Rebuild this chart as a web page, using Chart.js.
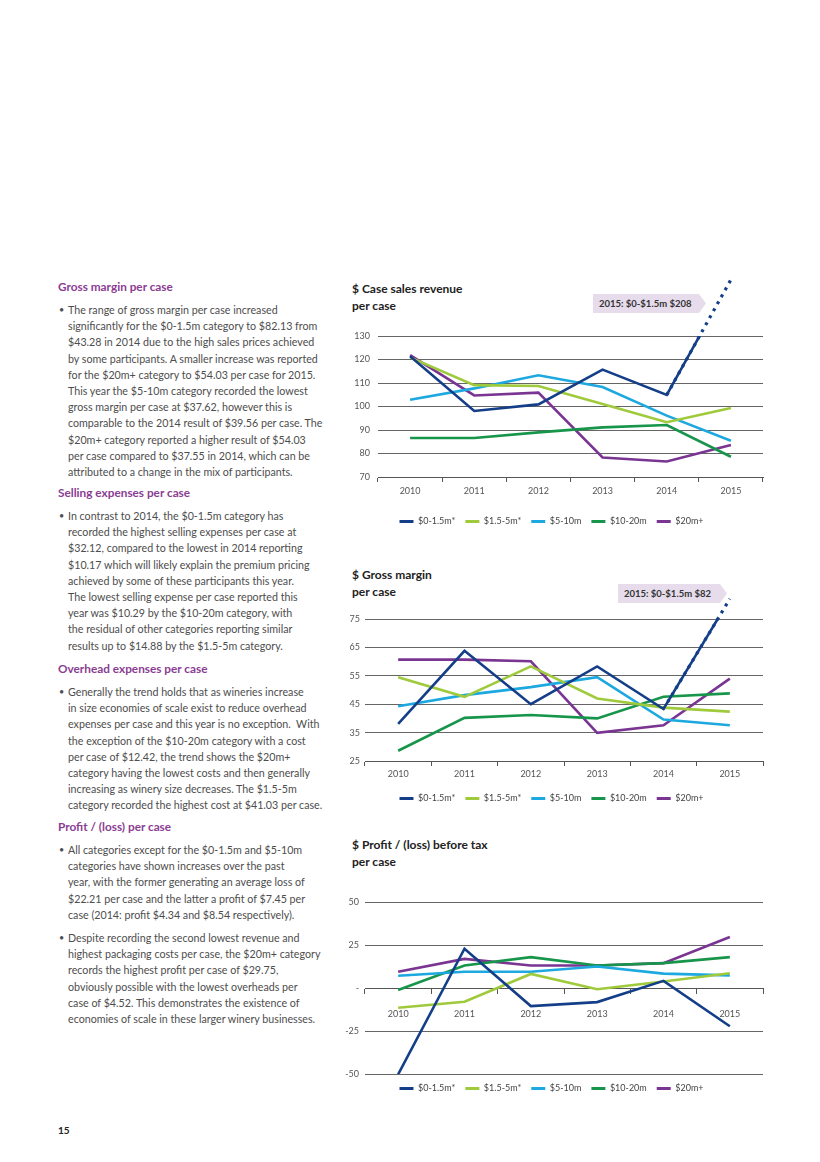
<!DOCTYPE html>
<html>
<head>
<meta charset="utf-8">
<script src="https://cdn.jsdelivr.net/npm/chart.js@4/dist/chart.umd.min.js"></script>
<style>
  html, body { margin:0; padding:0; background:#fff; }
  body { width:820px; height:1162px; position:relative; overflow:hidden; font-family:Lato, "Open Sans", sans-serif; color:#4d4d4d; }
  .abs { position:absolute; }
  .h { font-weight:700; color:#8a3d92; font-size:11.8px; line-height:16px; white-space:nowrap; }
  .p { font-size:10.7px; line-height:16.2px; white-space:nowrap; padding-left:10px; }
  .p::before { content:'•'; position:absolute; left:1px; font-size:9px; }
  .ttl { font-weight:700; color:#222; font-size:12px; line-height:17px; white-space:nowrap; }
  .call { background:#e6dcec; color:#333; font-weight:700; font-size:9.5px; line-height:19px; padding-left:6px; box-sizing:border-box;
          clip-path:polygon(0 0, calc(100% - 7px) 0, 100% 50%, calc(100% - 7px) 100%, 0 100%); white-space:nowrap; }
  canvas { position:absolute; }
</style>
</head>
<body>

<!-- ── LEFT COLUMN TEXT ─────────────────────────────── -->
<div class="abs h" style="left:58px;top:279px">Gross margin per case</div>
<div class="abs p" style="left:58px;top:302px">The range of gross margin per case increased<br>significantly for the $0-1.5m category to $82.13 from<br>$43.28 in 2014 due to the high sales prices achieved<br>by some participants. A smaller increase was reported<br>for the $20m+ category to $54.03 per case for 2015.<br>This year the $5-10m category recorded the lowest<br>gross margin per case at $37.62, however this is<br>comparable to the 2014 result of $39.56 per case. The<br>$20m+ category reported a higher result of $54.03<br>per case compared to $37.55 in 2014, which can be<br>attributed to a change in the mix of participants.</div>

<div class="abs h" style="left:58px;top:485px">Selling expenses per case</div>
<div class="abs p" style="left:58px;top:508px">In contrast to 2014, the $0-1.5m category has<br>recorded the highest selling expenses per case at<br>$32.12, compared to the lowest in 2014 reporting<br>$10.17 which will likely explain the premium pricing<br>achieved by some of these participants this year.<br>The lowest selling expense per case reported this<br>year was $10.29 by the $10-20m category, with<br>the residual of other categories reporting similar<br>results up to $14.88 by the $1.5-5m category.</div>

<div class="abs h" style="left:58px;top:661px">Overhead expenses per case</div>
<div class="abs p" style="left:58px;top:684px">Generally the trend holds that as wineries increase<br>in size economies of scale exist to reduce overhead<br>expenses per case and this year is no exception.&nbsp; With<br>the exception of the $10-20m category with a cost<br>per case of $12.42, the trend shows the $20m+<br>category having the lowest costs and then generally<br>increasing as winery size decreases. The $1.5-5m<br>category recorded the highest cost at $41.03 per case.</div>

<div class="abs h" style="left:58px;top:819px">Profit / (loss) per case</div>
<div class="abs p" style="left:58px;top:842px">All categories except for the $0-1.5m and $5-10m<br>categories have shown increases over the past<br>year, with the former generating an average loss of<br>$22.21 per case and the latter a profit of $7.45 per<br>case (2014: profit $4.34 and $8.54 respectively).</div>
<div class="abs p" style="left:58px;top:930px">Despite recording the second lowest revenue and<br>highest packaging costs per case, the $20m+ category<br>records the highest profit per case of $29.75,<br>obviously possible with the lowest overheads per<br>case of $4.52. This demonstrates the existence of<br>economies of scale in these larger winery businesses.</div>

<div class="abs" style="left:58px;top:1124px;font-weight:700;font-size:10px;color:#222">15</div>

<!-- ── CHART TITLES ─────────────────────────────────── -->
<div class="abs ttl" style="left:352px;top:280px">$ Case sales revenue<br>per case</div>
<div class="abs call" style="left:593px;top:294px;width:113px;height:19px">2015: $0-$1.5m $208</div>
<canvas id="revChart" style="left:340px;top:276px;width:430px;height:260px"></canvas>

<div class="abs ttl" style="left:352px;top:566px">$ Gross margin<br>per case</div>
<div class="abs call" style="left:618px;top:584px;width:109px;height:19px">2015: $0-$1.5m $82</div>
<canvas id="gmChart" style="left:340px;top:569px;width:430px;height:244px"></canvas>

<div class="abs ttl" style="left:352px;top:836px">$ Profit / (loss) before tax<br>per case</div>
<canvas id="plChart" style="left:340px;top:891px;width:430px;height:212px"></canvas>

<script>
// ── DATA ─────────────────────────────────────────────────────────
const YEARS = ['2010', '2011', '2012', '2013', '2014', '2015'];
const SERIES = ['$0-1.5m*', '$1.5-5m*', '$5-10m', '$10-20m', '$20m+'];
const COLORS = ['#143f88', '#9fca3c', '#1da8e0', '#17954a', '#7a3592'];

// $ Case sales revenue per case (2015 $0-1.5m is really $208; the
// chart breaks its scale, so the value below is where the line is drawn)
const REV_0_15  = [121.4, 98.1, 100.9, 115.7, 104.9, 154];
const REV_15_5  = [120.9, 109.1, 108.7, 101.1, 93.3, 99.4];
const REV_5_10  = [102.9, 107.7, 113.3, 108.3, 96.1, 85.4];
const REV_10_20 = [86.6, 86.6, 89.0, 91.1, 92.1, 78.6];
const REV_20P   = [121.9, 104.7, 105.9, 78.3, 76.6, 83.6];
const REV_TICKS = { min: 70, max: 130, step: 10 };

// $ Gross margin per case
const GM_0_15  = [38.1, 63.8, 45.0, 58.3, 43.3, 82.1];
const GM_15_5  = [54.5, 47.6, 58.3, 47.0, 43.8, 42.4];
const GM_5_10  = [44.3, 48.2, 51.0, 54.5, 39.6, 37.6];
const GM_10_20 = [28.6, 40.2, 41.2, 40.0, 47.6, 48.8];
const GM_20P   = [60.7, 60.7, 60.1, 34.9, 37.6, 54.0];
const GM_TICKS = { min: 25, max: 75, step: 10 };

// $ Profit / (loss) before tax per case
const PL_0_15  = [-50.2, 23.0, -10.4, -8.1, 4.3, -22.2];
const PL_15_5  = [-11.4, -7.9, 8.3, -0.6, 3.9, 8.7];
const PL_5_10  = [7.3, 9.6, 9.6, 12.6, 8.5, 7.5];
const PL_10_20 = [-1.0, 13.2, 18.1, 13.2, 14.6, 18.1];
const PL_20P   = [9.6, 17.1, 13.2, 13.2, 14.6, 29.8];
const PL_TICKS = { min: -50, max: 50, step: 25 };

// ── CHART BUILDER ────────────────────────────────────────────────
Chart.defaults.font.family = 'Lato, "Open Sans", sans-serif';
Chart.defaults.color = '#555';
Chart.defaults.animation = false;

// the off-scale $0-1.5m point gets a dotted tail running past the chart top
function tailOf(vals) {
  return vals.map((v, i) => i >= vals.length - 2 ? v : null);
}

function makeChart(id, seriesVals, ticks, o) {
  const datasets = seriesVals.map((vals, i) => ({
    label: SERIES[i], data: vals,
    borderColor: COLORS[i], backgroundColor: COLORS[i],
    borderWidth: 2.6, pointRadius: 0, tension: 0
  }));
  if (o.tail) {
    datasets.push({
      label: 'tail', data: tailOf(seriesVals[0]),
      borderColor: COLORS[0], borderWidth: 3.2, borderDash: [3, 5],
      pointRadius: 0, clip: false
    });
  }
  const xScale = {
    type: 'category', offset: true,
    grid: { offset: true, drawOnChartArea: false, color: '#555', tickLength: 5 },
    border: { display: true, color: '#555' },
    ticks: { font: { size: 9 }, padding: o.xPad, color: '#555' },
    afterFit: s => { s.height = o.xHeight; }
  };
  if (o.zeroAxis) xScale.position = { y: 0 };

  return new Chart(document.getElementById(id), {
    type: 'line',
    data: { labels: YEARS, datasets },
    options: {
      responsive: false, maintainAspectRatio: false,
      layout: { padding: { top: o.top, right: 7, left: 0, bottom: 0 } },
      plugins: {
        tooltip: { enabled: false },
        legend: {
          position: 'bottom',
          labels: {
            boxWidth: 14, boxHeight: 3, padding: 10, color: '#444', font: { size: 9 },
            filter: it => it.datasetIndex < SERIES.length,
            generateLabels: ch => Chart.defaults.plugins.legend.labels.generateLabels(ch)
              .map(l => Object.assign(l, { lineWidth: 0, fillStyle: l.strokeStyle }))
          }
        }
      },
      scales: {
        x: xScale,
        y: {
          min: ticks.min, max: ticks.max,
          grid: { color: '#666', drawTicks: false },
          border: { display: false },
          ticks: { stepSize: ticks.step, padding: o.yPad, font: { size: 9 }, color: '#555',
                   callback: v => v === 0 ? '-' : v },
          afterFit: s => { s.width = o.yWidth; }
        }
      }
    }
  });
}

function sizeCanvas(id) {
  const c = document.getElementById(id);
  c.width = parseInt(c.style.width);
  c.height = parseInt(c.style.height);
}
['revChart', 'gmChart', 'plChart'].forEach(sizeCanvas);

makeChart('revChart', [REV_0_15, REV_15_5, REV_5_10, REV_10_20, REV_20P], REV_TICKS,
  { tail: true, top: 60, yWidth: 38, yPad: 8, xHeight: 30, xPad: 4 });
makeChart('gmChart', [GM_0_15, GM_15_5, GM_5_10, GM_10_20, GM_20P], GM_TICKS,
  { tail: true, top: 50, yWidth: 25, yPad: 5, xHeight: 23, xPad: 3 });
makeChart('plChart', [PL_0_15, PL_15_5, PL_5_10, PL_10_20, PL_20P], PL_TICKS,
  { tail: false, zeroAxis: true, top: 10, yWidth: 25, yPad: 6, xHeight: 0, xPad: 15 });
</script>
</body>
</html>
